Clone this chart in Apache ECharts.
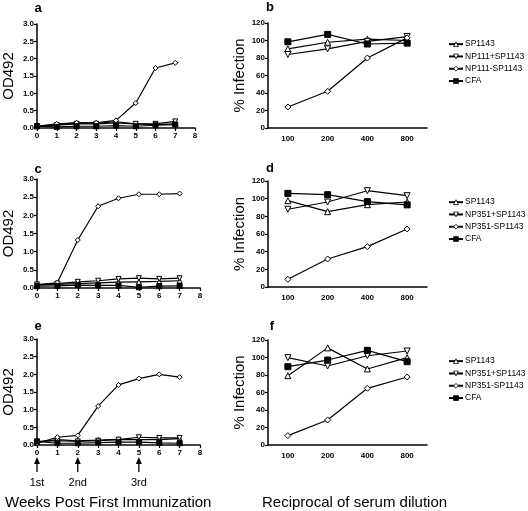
<!DOCTYPE html>
<html>
<head>
<meta charset="utf-8">
<script src="https://cdn.jsdelivr.net/npm/echarts@6/dist/echarts.min.js"></script>
<style>
html,body{margin:0;padding:0;background:#fff;}
#c{width:528px;height:511px;}
</style>
</head>
<body>
<div id="c"></div>
<script>
// ---- data ----
const weeks = [0, 1, 2, 3, 4, 5, 6, 7];
const dilutions = ['100', '200', '400', '800'];

// panel a (NP111)
const a_SP1143      = [0.05, 0.10, 0.15, 0.15, 0.18, 0.12, 0.10, 0.12];
const a_NP111plus   = [0.05, 0.08, 0.12, 0.12, 0.15, 0.12, 0.12, 0.19];
const a_NP111minus  = [0.05, 0.12, 0.15, 0.15, 0.22, 0.72, 1.73, 1.88];
const a_CFA         = [0.05, 0.03, 0.05, 0.05, 0.07, 0.05, 0.08, 0.10];

// panel b
const b_SP1143      = [90.5, 98, 101.5, 100];
const b_NP111plus   = [84, 90.5, 99, 104.5];
const b_NP111minus  = [24, 42, 80, 103];
const b_CFA         = [98.5, 107, 96, 97];

// panel c (NP351)
const c_SP1143      = [0.08, 0.10, 0.12, 0.14, 0.16, 0.17, 0.18, 0.20];
const c_NP351plus   = [0.10, 0.12, 0.17, 0.20, 0.25, 0.27, 0.25, 0.27];
const c_NP351minus  = [0.08, 0.15, 1.32, 2.25, 2.47, 2.58, 2.58, 2.60];
const c_CFA         = [0.05, 0.06, 0.08, 0.07, 0.07, 0.02, 0.05, 0.06];

// panel d
const d_SP1143      = [97.7, 85.3, 93.2, 96.2];
const d_NP351plus   = [88, 96.2, 109, 103.4];
const d_NP351minus  = [8.7, 31.7, 45.7, 65.7];
const d_CFA         = [106, 104.5, 96.6, 93];

// panel e (NP351)
const e_SP1143      = [0.08, 0.15, 0.12, 0.14, 0.16, 0.15, 0.15, 0.18];
const e_NP351plus   = [0.10, 0.12, 0.10, 0.12, 0.15, 0.22, 0.20, 0.20];
const e_NP351minus  = [0.05, 0.22, 0.27, 1.10, 1.70, 1.88, 2.00, 1.92];
const e_CFA         = [0.10, 0.05, 0.05, 0.07, 0.08, 0.08, 0.06, 0.05];

// panel f
const f_SP1143      = [79.2, 111, 86.9, 99.8];
const f_NP351plus   = [99.8, 90.3, 102, 107.4];
const f_NP351minus  = [10.7, 28.6, 64.8, 77.7];
const f_CFA         = [89.5, 97.1, 108.2, 95.2];

const immunizations = [0, 2, 5];
const immunizationLabels = ['1st', '2nd', '3rd'];

const odTickInterval = 0.5;
const infTickInterval = 20;

// ---- styles ----
const FONT = '"Liberation Sans", Arial, Helvetica, sans-serif';
const styles = {
  SP:    { symbol: 'triangle', rotate: 0,   fill: '#fff' },
  PLUS:  { symbol: 'triangle', rotate: 180, fill: '#fff' },
  MINUS: { symbol: 'diamond',  rotate: 0,   fill: '#fff' },
  CFA:   { symbol: 'rect',     rotate: 0,   fill: '#000' }
};

function mkSeries(name, kind, data, xIdx, isCat, size) {
  const st = styles[kind];
  return {
    type: 'line',
    name: name,
    xAxisIndex: xIdx,
    yAxisIndex: xIdx,
    data: isCat ? data : data.map((v, i) => [weeks[i], v]),
    symbol: st.symbol,
    symbolRotate: st.rotate,
    symbolSize: size,
    showSymbol: true,
    animation: false,
    lineStyle: { color: '#000', width: 1.2 },
    itemStyle: { color: st.fill, borderColor: '#000', borderWidth: 1 },
    emphasis: { disabled: true },
    z: kind === 'CFA' ? 3 : 2
  };
}

const grids = [
  { left: 36,  top: 24,  width: 159, height: 104 }, // a
  { left: 268, top: 23,  width: 159, height: 105 }, // b
  { left: 36,  top: 179, width: 164, height: 109 }, // c
  { left: 268, top: 181, width: 159, height: 106 }, // d
  { left: 36,  top: 339, width: 164, height: 106 }, // e
  { left: 268, top: 340, width: 159, height: 105 }  // f
];

const axisLineStyle = { lineStyle: { color: '#000', width: 1.5 } };
const tickLabel = { color: '#000', fontSize: 8, fontWeight: 'bold', fontFamily: FONT };

const xAxes = [], yAxes = [];
grids.forEach((g, i) => {
  const isCat = (i % 2 === 1);
  if (isCat) {
    xAxes.push({
      gridIndex: i, type: 'category', data: dilutions, boundaryGap: true,
      axisLine: axisLineStyle, axisTick: { show: false },
      axisLabel: Object.assign({ margin: 7 }, tickLabel), splitLine: { show: false }
    });
    yAxes.push({
      gridIndex: i, type: 'value', min: 0, max: 120, interval: infTickInterval,
      axisLine: Object.assign({ show: true }, axisLineStyle),
      axisTick: { show: true, length: 3, lineStyle: { color: '#000', width: 1.2 } },
      axisLabel: Object.assign({ margin: 3 }, tickLabel), splitLine: { show: false },
      name: '% Infection', nameLocation: 'middle', nameGap: 21, nameRotate: 90,
      nameTextStyle: { color: '#000', fontSize: 15, fontFamily: FONT }
    });
  } else {
    xAxes.push({
      gridIndex: i, type: 'value', min: 0, max: 8, interval: 1,
      axisLine: { lineStyle: { color: '#444', width: 1.8 } },
      axisTick: { show: true, length: 3, lineStyle: { color: '#000', width: 1.2 } },
      axisLabel: Object.assign({ margin: 4 }, tickLabel), splitLine: { show: false }
    });
    yAxes.push({
      gridIndex: i, type: 'value', min: 0, max: 3, interval: odTickInterval,
      axisLine: Object.assign({ show: true }, axisLineStyle),
      axisTick: { show: true, length: 3, lineStyle: { color: '#000', width: 1.2 } },
      axisLabel: Object.assign({ margin: 3, formatter: v => v.toFixed(1) }, tickLabel),
      splitLine: { show: false },
      name: 'OD492', nameLocation: 'middle', nameGap: 21, nameRotate: 90,
      nameTextStyle: { color: '#000', fontSize: 15, fontFamily: FONT }
    });
  }
});

const series = [
  mkSeries('SP1143', 'SP', a_SP1143, 0, false, 5),
  mkSeries('NP111+SP1143', 'PLUS', a_NP111plus, 0, false, 5),
  mkSeries('NP111-SP1143', 'MINUS', a_NP111minus, 0, false, 5),
  mkSeries('CFA', 'CFA', a_CFA, 0, false, 5),

  mkSeries('SP1143', 'SP', b_SP1143, 1, true, 6),
  mkSeries('NP111+SP1143', 'PLUS', b_NP111plus, 1, true, 6),
  mkSeries('NP111-SP1143', 'MINUS', b_NP111minus, 1, true, 6),
  mkSeries('CFA', 'CFA', b_CFA, 1, true, 6),

  mkSeries('SP1143', 'SP', c_SP1143, 2, false, 5),
  mkSeries('NP351+SP1143', 'PLUS', c_NP351plus, 2, false, 5),
  mkSeries('NP351-SP1143', 'MINUS', c_NP351minus, 2, false, 5),
  mkSeries('CFA', 'CFA', c_CFA, 2, false, 5),

  mkSeries('SP1143', 'SP', d_SP1143, 3, true, 6),
  mkSeries('NP351+SP1143', 'PLUS', d_NP351plus, 3, true, 6),
  mkSeries('NP351-SP1143', 'MINUS', d_NP351minus, 3, true, 6),
  mkSeries('CFA', 'CFA', d_CFA, 3, true, 6),

  mkSeries('SP1143', 'SP', e_SP1143, 4, false, 5),
  mkSeries('NP351+SP1143', 'PLUS', e_NP351plus, 4, false, 5),
  mkSeries('NP351-SP1143', 'MINUS', e_NP351minus, 4, false, 5),
  mkSeries('CFA', 'CFA', e_CFA, 4, false, 5),

  mkSeries('SP1143', 'SP', f_SP1143, 5, true, 6),
  mkSeries('NP351+SP1143', 'PLUS', f_NP351plus, 5, true, 6),
  mkSeries('NP351-SP1143', 'MINUS', f_NP351minus, 5, true, 6),
  mkSeries('CFA', 'CFA', f_CFA, 5, true, 6)
];

function mkLegend(top, names) {
  return {
    left: 448, top: top, orient: 'vertical', itemGap: 0, padding: 0,
    itemWidth: 14, itemHeight: 6, selectedMode: false,
    itemStyle: { borderWidth: 0.8 },
    textStyle: { color: '#000', fontSize: 8.5, lineHeight: 12.3, fontFamily: FONT, padding: [0, 0, 0, -3] },
    data: names
  };
}

const letters = [
  ['a', 38, 8], ['b', 270, 7], ['c', 38, 169], ['d', 270, 168], ['e', 38, 326], ['f', 272, 326]
];

const graphics = letters.map(l => ({
  type: 'text', x: l[1], y: l[2],
  style: { text: l[0], fill: '#000', font: 'bold 13px ' + FONT, textAlign: 'center', textVerticalAlign: 'middle' }
}));
graphics.push({
  type: 'text', x: 5, y: 503,
  style: { text: 'Weeks Post First Immunization', fill: '#000', font: '15px ' + FONT, textAlign: 'left', textVerticalAlign: 'middle' }
});
graphics.push({
  type: 'text', x: 262, y: 503,
  style: { text: 'Reciprocal of serum dilution', fill: '#000', font: '15px ' + FONT, textAlign: 'left', textVerticalAlign: 'middle' }
});

const chart = echarts.init(document.getElementById('c'), null, { renderer: 'canvas' });
const option = {
  animation: false,
  backgroundColor: '#fff',
  grid: grids,
  xAxis: xAxes,
  yAxis: yAxes,
  legend: [
    mkLegend(38, ['SP1143', 'NP111+SP1143', 'NP111-SP1143', 'CFA']),
    mkLegend(196, ['SP1143', 'NP351+SP1143', 'NP351-SP1143', 'CFA']),
    mkLegend(355, ['SP1143', 'NP351+SP1143', 'NP351-SP1143', 'CFA'])
  ],
  series: series,
  graphic: graphics
};
chart.setOption(option);

// immunization arrows under panel e, positioned through the axis scale
const arrowEls = [];
immunizations.forEach((w, i) => {
  const px = chart.convertToPixel({ xAxisIndex: 4 }, w);
  arrowEls.push({
    type: 'line', shape: { x1: px, y1: 472, x2: px, y2: 462 },
    style: { stroke: '#000', lineWidth: 1.3 }
  });
  arrowEls.push({
    type: 'polygon', shape: { points: [[px, 457], [px - 3, 464], [px + 3, 464]] },
    style: { fill: '#000' }
  });
  arrowEls.push({
    type: 'text', x: px, y: 483,
    style: { text: immunizationLabels[i], fill: '#000', font: '11px ' + FONT, textAlign: 'center', textVerticalAlign: 'middle' }
  });
});
chart.setOption({ graphic: graphics.concat(arrowEls) });
</script>
</body>
</html>
